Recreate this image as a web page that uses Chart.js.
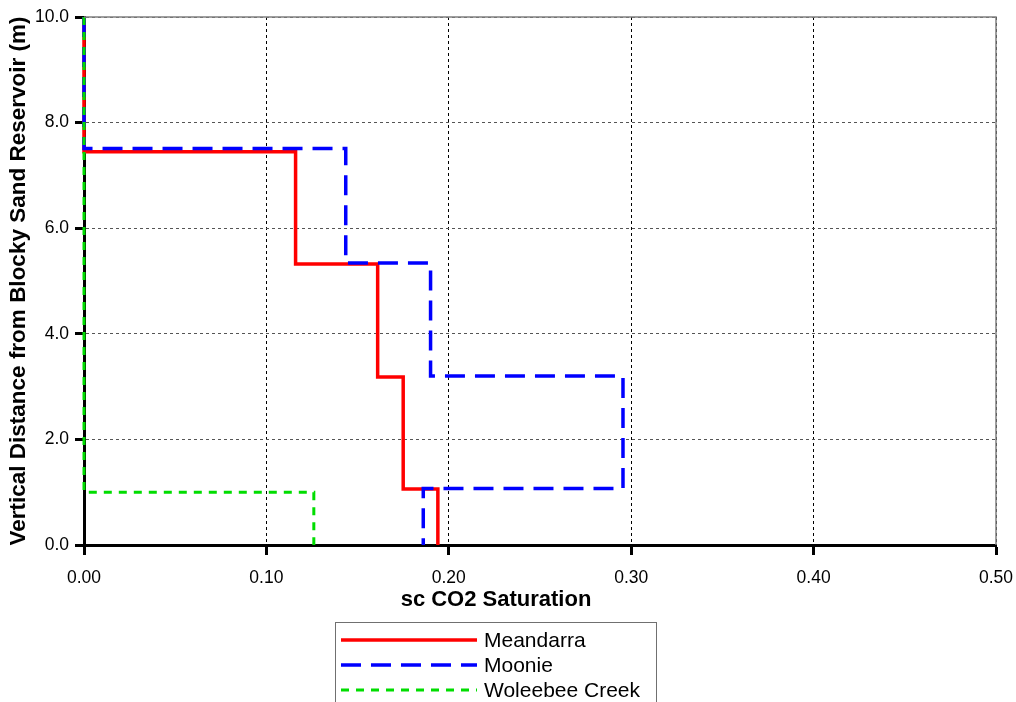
<!DOCTYPE html>
<html>
<head>
<meta charset="utf-8">
<script src="https://cdn.jsdelivr.net/npm/chart.js@4"></script>
<style>
  html, body { margin: 0; padding: 0; background: #fff; }
  #wrap { width: 1016px; height: 702px; }
</style>
</head>
<body>
<div id="wrap"><canvas id="satChart" width="1016" height="702"></canvas></div>
<script>
// layer boundaries (m above base) and saturation in each layer, top to bottom
const seriesNames = ["Meandarra", "Moonie", "Woleebee Creek"];
const meandarraDepth = [10.0, 7.45, 5.32, 3.18, 1.06, 0.0];
const meandarraSat = [0.0, 0.116, 0.161, 0.175, 0.194];
const moonieDepth = [10.0, 7.51, 5.34, 3.20, 1.07, 0.0];
const moonieSat = [0.0, 0.1435, 0.190, 0.2955, 0.186];
const woleebeeDepth = [10.0, 1.0, 0.0];
const woleebeeSat = [0.0, 0.126];

const xTicks = [0.0, 0.1, 0.2, 0.3, 0.4, 0.5];
const yTicks = [0.0, 2.0, 4.0, 6.0, 8.0, 10.0];

const FONT = "'Liberation Sans', Arial, sans-serif";

// turn layer values into a stepped profile
function profile(depths, sats) {
    const pts = [];
    for (let i = 0; i < sats.length; i++) {
        pts.push({ x: sats[i], y: depths[i] });
        pts.push({ x: sats[i], y: depths[i + 1] });
    }
    return pts;
}

// frame (top/right), x title and boxed legend
const extras = {
    id: "extras",
    afterDraw(chart) {
        const ctx = chart.ctx;
        const a = chart.chartArea;
        ctx.save();
        ctx.strokeStyle = "#808080";
        ctx.lineWidth = 1.5;
        ctx.setLineDash([]);
        ctx.beginPath();
        ctx.moveTo(a.left, a.top);
        ctx.lineTo(a.right, a.top);
        ctx.lineTo(a.right, a.bottom);
        ctx.stroke();

        ctx.fillStyle = "#000";
        ctx.font = "bold 22px " + FONT;
        ctx.textAlign = "center";
        ctx.textBaseline = "middle";
        ctx.fillText("sc CO2 Saturation", 496, 600);

        // legend
        const bx = 335, by = 622, bw = 321;
        ctx.strokeStyle = "#707070";
        ctx.lineWidth = 1;
        ctx.strokeRect(bx + 0.5, by + 0.5, bw, 100);
        ctx.font = "21px " + FONT;
        ctx.textAlign = "left";
        chart.data.datasets.forEach(function (ds, i) {
            const y = by + 18 + i * 25;
            ctx.strokeStyle = ds.borderColor;
            ctx.lineWidth = ds.borderWidth;
            ctx.setLineDash(ds.borderDash || []);
            ctx.beginPath();
            ctx.moveTo(bx + 6, y);
            ctx.lineTo(bx + 142, y);
            ctx.stroke();
            ctx.setLineDash([]);
            ctx.fillStyle = "#000";
            ctx.fillText(ds.label, bx + 149, y + 1);
        });
        ctx.restore();
    }
};

const ctx = document.getElementById("satChart").getContext("2d");
const satChart = new Chart(ctx, {
    type: "scatter",
    data: {
        datasets: [
            {
                label: seriesNames[0],
                data: profile(meandarraDepth, meandarraSat),
                borderColor: "#ff0000",
                borderWidth: 3.5,
                borderDash: [],
                order: 2
            },
            {
                label: seriesNames[1],
                data: profile(moonieDepth, moonieSat),
                borderColor: "#0000ff",
                borderWidth: 3.5,
                borderDash: [20, 10],
                order: 1
            },
            {
                label: seriesNames[2],
                data: profile(woleebeeDepth, woleebeeSat),
                borderColor: "#00dd00",
                borderWidth: 3,
                borderDash: [8, 7],
                order: 0
            }
        ].map(function (ds) {
            return Object.assign(ds, {
                showLine: true,
                pointRadius: 0,
                pointHoverRadius: 0,
                borderJoinStyle: "miter",
                borderCapStyle: "butt",
                clip: false
            });
        })
    },
    options: {
        responsive: false,
        animation: false,
        layout: { padding: { left: 0, right: 0, top: 17, bottom: 117 } },
        plugins: {
            legend: { display: false },
            tooltip: { enabled: false }
        },
        scales: {
            x: {
                type: "linear",
                min: xTicks[0],
                max: xTicks[xTicks.length - 1],
                afterBuildTicks(scale) {
                    scale.ticks = xTicks.map(v => ({ value: v }));
                },
                afterFit(scale) {
                    scale.height = 40;
                    scale.paddingLeft = 0;
                    scale.paddingRight = 20;
                },
                ticks: {
                    color: "#000",
                    font: { family: FONT, size: 17.5 },
                    padding: 13,
                    maxRotation: 0,
                    callback: v => v.toFixed(2)
                },
                grid: {
                    color: "#000",
                    lineWidth: 1,
                    tickColor: "#000",
                    tickLength: 10,
                    tickWidth: 3
                },
                border: { color: "#000", width: 3, dash: [3, 3] }
            },
            y: {
                type: "linear",
                min: yTicks[0],
                max: yTicks[yTicks.length - 1],
                afterBuildTicks(scale) {
                    scale.ticks = yTicks.map(v => ({ value: v }));
                },
                afterFit(scale) { scale.width = 84; },
                ticks: {
                    color: "#000",
                    font: { family: FONT, size: 17.5 },
                    padding: 6,
                    callback: v => v.toFixed(1)
                },
                grid: {
                    color: "#555",
                    lineWidth: 1,
                    tickColor: "#000",
                    tickLength: 9,
                    tickWidth: 3
                },
                border: { color: "#000", width: 3, dash: [3, 3] },
                title: {
                    display: true,
                    text: "Vertical Distance from Blocky Sand Reservoir (m)",
                    color: "#000",
                    font: { family: FONT, size: 22.5, weight: "bold" },
                    padding: { top: 5, bottom: 0 }
                }
            }
        }
    },
    plugins: [extras]
});
</script>
</body>
</html>
